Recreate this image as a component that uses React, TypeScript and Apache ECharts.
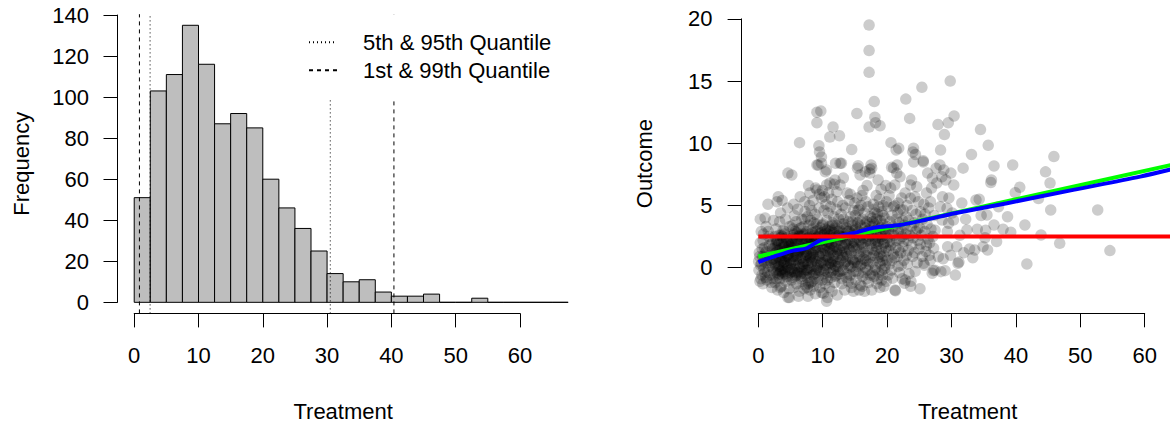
import { useEffect, useRef } from "react";
import * as echarts from "echarts";

// ---------- Histogram of the treatment variable ----------
const histBinWidth = 2.5;
const histCounts = [51, 103, 111, 135, 116, 87, 92, 85, 60, 46, 36, 25, 14, 10, 11, 5, 3, 3, 4, 0, 0, 2, 0, 0, 0, 0, 0];
const histXTicks = { min: 0, max: 60, step: 10 };
const histYTicks = { min: 0, max: 140, step: 20 };
const quantiles5_95 = [2.47, 30.5];
const quantiles1_99 = [0.81, 40.4];

// ---------- Treatment vs outcome (flat x,y pairs) ----------
const pts0to5 = [
  0.1,-0.2, 0.2,0.9, 0.3,2.0, 0.4,-0.9, 0.5,0.3, 0.6,1.5, 0.7,-1.3, 0.8,2.7, 0.9,0.5, 1.0,-0.4,
  1.1,1.2, 1.2,3.3, 1.3,-1.0, 1.4,0.8, 1.5,5.1, 1.6,0.1, 1.7,1.8, 1.8,-0.6, 1.9,2.3, 2.0,0.4,
  2.1,-1.6, 2.2,1.5, 2.3,0.7, 2.4,-0.3, 0.15,1.2, 0.35,0.2, 0.55,-0.6, 0.75,2.2, 0.95,1.6, 1.15,-0.8,
  1.35,0.4, 1.55,2.9, 1.75,1.0, 1.95,-1.2, 2.15,0.0, 2.35,3.8, 0.25,-1.1, 0.45,2.9, 0.65,0.9, 0.85,-0.1,
  1.05,4.0, 1.25,1.3, 1.45,-0.4, 1.65,2.5, 1.85,0.6, 2.05,1.9, 2.25,-0.9, 2.45,1.1, 0.05,0.5, 0.3,3.9,
  2.55,0.3, 2.6,-1.2, 2.65,1.8, 2.7,0.6, 2.75,3.1, 2.8,-0.4, 2.85,2.2, 2.9,5.3, 2.95,0.9, 3.0,-1.8,
  3.05,1.4, 3.1,5.7, 3.15,-0.2, 3.2,2.6, 3.25,0.1, 3.3,3.7, 3.35,-0.9, 3.4,1.1, 3.45,4.4, 3.5,0.5,
  3.55,-1.5, 3.6,2.0, 3.65,0.8, 3.7,5.4, 3.75,-0.6, 3.8,1.6, 3.85,3.0, 3.9,0.2, 3.95,-2.0, 4.0,1.3,
  4.05,2.7, 4.1,-0.3, 4.15,0.7, 4.2,3.9, 4.25,1.9, 4.3,-1.1, 4.35,0.4, 4.4,2.4, 4.45,-0.7, 4.5,1.0,
  4.55,4.8, 4.6,7.6, 4.65,0.0, 4.7,2.1, 4.75,-1.7, 4.8,1.5, 4.85,3.3, 4.9,0.6, 4.95,-0.4, 2.58,2.5,
  2.68,0.2, 2.78,1.2, 2.88,2.1, 2.98,0.0, 3.08,-0.6, 3.18,1.9, 3.28,0.7, 3.38,1.5, 3.48,-0.3, 3.58,2.6,
  3.68,1.0, 3.78,-0.4, 3.88,2.3, 3.98,0.4, 4.08,1.7, 4.18,-0.2, 4.28,1.4, 4.38,0.9, 4.48,0.1, 4.58,2.0,
  4.68,1.1, 4.78,-0.2, 4.88,1.8, 4.98,0.3, 2.62,1.6, 2.72,0.8, 2.82,-0.9, 2.92,1.6, 3.02,2.2, 3.12,0.3,
  3.22,-0.5, 3.32,1.4, 3.42,2.4, 3.52,-0.2, 3.62,0.6, 3.72,2.5, 3.82,-0.1, 3.92,1.8, 4.02,2.9, 4.12,0.5,
  4.22,-0.5, 4.32,1.2, 4.42,2.2, 4.52,-0.8, 4.62,0.9, 4.72,1.7, 4.82,-2.4, 4.92,1.4, 4.6,-2.4, 3.4,-1.6,
];
const pts5to10 = [
  5.05,0.4, 5.1,2.1, 5.15,-1.0, 5.2,7.45, 5.25,1.3, 5.3,3.4, 5.35,-0.3, 5.4,0.9, 5.45,2.6, 5.5,-1.6,
  5.55,1.7, 5.6,4.2, 5.65,0.2, 5.7,2.9, 5.75,-0.7, 5.8,1.1, 5.85,3.7, 5.9,0.6, 5.95,-1.3, 6.0,2.3,
  6.05,1.0, 6.1,4.7, 6.15,-0.4, 6.2,1.9, 6.25,0.3, 6.3,3.1, 6.35,-1.9, 6.4,10.05, 6.45,1.4, 6.5,5.7,
  6.55,0.7, 6.6,2.5, 6.65,-0.9, 6.7,1.6, 6.75,3.9, 6.8,0.0, 6.85,2.2, 6.9,-1.1, 6.95,1.2, 7.0,3.3,
  7.05,0.5, 7.1,-0.5, 7.15,2.7, 7.2,1.5, 7.25,4.5, 7.3,-1.4, 7.35,0.8, 7.4,2.0, 7.45,-0.2, 5.08,2.2,
  5.18,1.6, 5.28,-0.8, 5.38,2.4, 5.48,0.6, 5.58,-0.1, 5.68,2.3, 5.78,1.4, 5.88,-0.6, 5.98,0.9, 6.08,2.0,
  6.18,-0.3, 6.28,1.3, 6.38,2.6, 6.48,0.1, 6.58,-0.5, 6.68,2.1, 6.78,0.8, 6.88,2.7, 6.98,0.3, 7.08,1.8,
  7.18,-0.2, 7.28,0.4, 7.38,2.2, 7.48,1.1, 5.12,-0.1, 5.22,1.9, 5.32,0.5, 5.42,3.1, 5.52,2.7, 5.62,-0.4,
  5.72,0.9, 5.82,2.0, 5.92,-0.4, 6.02,2.8, 6.12,1.2, 6.22,-2.3, 6.32,2.5, 6.42,0.0, 6.52,1.7, 6.62,3.2,
  6.72,-0.7, 6.82,1.5, 6.92,0.3, 7.02,2.6, 7.12,-1.7, 7.22,3.9, 7.32,1.3, 7.42,-0.5, 5.5,5.1, 7.2,5.3,
  7.52,1.0, 7.55,2.9, 7.58,-0.8, 7.6,1.7, 7.63,4.1, 7.66,0.3, 7.7,-2.3, 7.72,2.4, 7.75,1.2, 7.78,-1.3,
  7.8,6.6, 7.83,3.4, 7.86,0.6, 7.9,2.0, 7.93,-0.4, 7.96,5.0, 8.0,1.5, 8.03,-1.8, 8.06,2.7, 8.1,0.9,
  8.13,3.8, 8.16,-0.1, 8.2,1.9, 8.23,4.6, 8.26,0.4, 8.3,-1.1, 8.33,2.3, 8.36,1.1, 8.4,3.1, 8.43,-0.6,
  8.46,0.8, 8.5,5.4, 8.53,2.0, 8.56,-1.5, 8.6,1.4, 8.63,3.6, 8.66,0.1, 8.7,2.6, 8.73,-0.9, 8.76,1.8,
  8.8,4.3, 8.83,0.7, 8.86,-2.1, 8.9,2.9, 8.93,1.3, 8.96,-0.2, 9.0,3.5, 9.03,0.5, 9.06,2.2, 9.1,12.5,
  9.1,11.65, 9.1,8.26, 9.1,6.25, 9.13,-1.2, 9.16,1.6, 9.2,3.9, 9.23,0.2, 9.26,2.5, 9.3,8.26, 9.33,-0.7,
  9.36,1.0, 9.4,9.8, 9.43,4.8, 9.46,0.9, 9.5,9.3, 9.53,2.1, 9.56,-1.6, 9.6,3.2, 9.63,1.2, 9.66,-0.3,
  9.7,12.6, 9.73,2.8, 9.76,0.4, 9.8,8.9, 9.8,8.4, 9.83,5.6, 9.86,1.7, 9.9,-1.0, 9.93,3.4, 9.96,0.6,
  7.54,2.3, 7.64,-0.2, 7.74,1.9, 7.84,0.0, 7.94,2.5, 8.04,0.8, 8.14,-1.2, 8.24,2.2, 8.34,0.5, 8.44,2.8,
  8.54,1.0, 8.64,-0.5, 8.74,2.3, 8.84,1.6, 8.94,-0.4, 9.04,2.4, 9.14,0.0, 9.24,3.0, 9.34,1.5, 9.44,-0.2,
  9.54,2.7, 9.64,0.3, 9.74,2.2, 9.84,-2.0, 9.94,1.9, 7.6,-1.6, 8.0,6.0, 8.9,6.4, 9.5,5.9, 9.95,6.2,
];
const pts10to15 = [
  10.02,1.1, 10.05,3.5, 10.1,-2.06, 10.12,0.4, 10.15,2.2, 10.2,4.6, 10.22,-0.5, 10.25,1.6, 10.3,2.9, 10.33,0.2,
  10.36,-1.3, 10.4,7.7, 10.42,3.1, 10.45,1.0, 10.5,5.1, 10.52,-0.1, 10.55,2.4, 10.6,7.86, 10.6,6.65, 10.6,-2.7,
  10.62,1.8, 10.65,3.8, 10.7,0.6, 10.72,-1.0, 10.75,2.7, 10.8,1.3, 10.83,4.4, 10.86,-0.4, 10.9,6.0, 10.92,2.0,
  10.95,0.8, 11.0,3.3, 11.02,-1.6, 11.05,1.5, 11.1,10.5, 11.12,2.6, 11.15,0.0, 11.2,4.9, 11.22,1.2, 11.25,-0.8,
  11.3,3.0, 11.33,1.9, 11.36,0.3, 11.4,5.5, 11.42,2.3, 11.45,-1.9, 11.5,1.4, 11.53,3.6, 11.56,0.7, 11.6,11.3,
  11.62,2.1, 11.65,-0.2, 11.7,4.1, 11.72,1.0, 11.75,2.8, 11.8,6.7, 11.82,0.5, 11.85,-1.2, 11.9,7.05, 11.92,3.2,
  11.95,1.7, 12.0,8.4, 12.02,0.1, 12.05,2.5, 12.1,4.7, 12.12,-0.6, 12.15,1.3, 12.2,3.4, 12.22,0.9, 12.25,-2.2,
  12.3,2.2, 12.33,5.3, 12.36,1.1, 12.4,-0.3, 12.42,2.9, 12.45,0.4, 12.48,3.9, 10.08,2.6, 10.18,-0.2, 10.28,2.7,
  10.38,1.4, 10.48,-0.8, 10.58,0.9, 10.68,3.0, 10.78,2.1, 10.88,0.3, 10.98,1.7, 11.08,2.9, 11.18,0.4, 11.28,-0.4,
  11.38,2.4, 11.48,3.4, 11.58,0.5, 11.68,1.6, 11.78,3.1, 11.88,0.2, 11.98,-0.7, 12.08,2.0, 12.18,6.1, 12.28,1.5,
  12.38,0.1, 12.46,2.6, 10.25,5.7, 11.1,6.8, 10.75,-2.4,
  12.55,1.4, 12.6,10.6, 12.62,3.0, 12.65,-0.5, 12.7,8.4, 12.7,6.65, 12.75,2.2, 12.8,0.6, 12.85,4.3, 12.9,8.4,
  12.92,1.8, 12.95,-1.3, 13.0,3.5, 13.05,1.0, 13.1,5.0, 13.12,2.5, 13.15,-0.2, 13.2,1.6, 13.25,3.9, 13.3,0.3,
  13.35,2.7, 13.4,-1.8, 13.45,1.3, 13.5,4.8, 13.55,2.0, 13.6,0.5, 13.65,3.2, 13.7,-0.8, 13.75,1.9, 13.8,6.0,
  13.85,2.9, 13.9,0.9, 13.95,-1.1, 14.0,3.7, 14.05,1.5, 14.1,5.4, 14.15,2.3, 14.2,0.0, 14.25,-0.6, 14.3,2.8,
  14.35,4.1, 14.4,1.2, 14.45,-1.6, 14.5,9.5, 14.5,-1.25, 14.55,2.5, 14.6,0.7, 14.65,3.4, 14.7,1.7, 14.75,-0.3,
  14.8,4.6, 14.85,2.1, 14.9,0.4, 14.95,3.0, 12.58,2.6, 12.68,-0.3, 12.78,2.5, 12.88,1.2, 12.98,-0.9, 13.08,2.4,
  13.18,0.8, 13.28,3.5, 13.38,1.9, 13.48,0.4, 13.58,3.0, 13.68,1.1, 13.78,-0.5, 13.88,2.2, 13.98,0.2, 14.08,2.9,
  14.18,1.4, 14.28,5.9, 14.38,0.1, 14.48,2.0, 14.58,3.7, 14.68,0.6, 14.78,-1.9, 14.88,1.6, 14.98,5.2, 13.2,7.2,
];
const pts15to20 = [
  15.02,2.0, 15.05,4.2, 15.1,0.6, 15.15,-1.0, 15.2,3.1, 15.25,1.5, 15.3,12.4, 15.32,5.6, 15.35,2.4, 15.4,8.0,
  15.42,0.1, 15.45,3.6, 15.5,8.2, 15.52,1.8, 15.55,-0.5, 15.6,2.9, 15.65,4.7, 15.7,0.9, 15.75,2.2, 15.8,7.45,
  15.82,-1.4, 15.85,3.4, 15.9,1.3, 15.95,5.0, 16.0,2.6, 16.05,0.3, 16.1,-1.5, 16.15,3.9, 16.2,1.9, 16.25,6.2,
  16.3,0.7, 16.35,2.8, 16.4,-0.4, 16.45,4.4, 16.5,1.6, 16.55,3.2, 16.6,7.7, 16.62,0.0, 16.65,2.1, 16.7,5.3,
  16.75,1.0, 16.8,-0.9, 16.85,3.7, 16.9,2.3, 16.95,0.5, 17.0,4.9, 17.05,1.4, 17.1,-1.2, 17.15,3.0, 17.2,19.5,
  17.2,17.45, 17.2,15.7, 17.2,11.3, 17.25,2.5, 17.3,7.9, 17.32,7.6, 17.35,0.8, 17.4,4.1, 17.45,1.9, 15.08,3.3,
  15.18,-0.3, 15.28,2.7, 15.38,0.4, 15.48,4.6, 15.58,1.1, 15.68,-1.8, 15.78,3.8, 15.88,0.2, 15.98,2.0, 16.08,5.8,
  16.18,-0.7, 16.28,2.4, 16.38,1.2, 16.48,-1.9, 16.58,3.5, 16.68,0.6, 16.78,2.9, 16.88,6.6, 16.98,-0.2, 17.08,2.2,
  17.18,0.3, 17.28,3.6, 17.38,-0.6, 17.48,2.8,
  17.5,8.26, 17.55,3.3, 17.6,8.0, 17.6,-1.8, 17.65,1.5, 17.7,4.0, 17.75,2.2, 17.8,0.4, 17.85,5.1, 17.9,2.9,
  17.95,-0.7, 18.0,13.35, 18.02,3.5, 18.05,1.2, 18.1,12.1, 18.12,4.4, 18.15,2.0, 18.2,11.65, 18.22,0.0, 18.25,3.0,
  18.3,5.8, 18.35,1.7, 18.4,-1.3, 18.45,2.6, 18.5,4.3, 18.55,0.8, 18.6,7.05, 18.62,3.4, 18.65,1.9, 18.7,-0.4,
  18.75,2.4, 18.8,5.5, 18.85,1.1, 18.9,11.4, 18.92,3.8, 18.95,0.3, 19.0,2.7, 19.05,6.3, 19.1,1.5, 19.15,-1.0,
  19.2,4.5, 19.2,-0.2, 19.25,2.3, 19.3,3.5, 19.35,0.6, 19.4,5.0, 19.45,1.9, 19.5,-1.5, 19.55,3.1, 19.6,2.0,
  19.65,4.0, 19.7,0.2, 19.75,2.6, 19.8,6.6, 19.85,1.3, 19.9,5.3, 19.95,3.3, 17.58,2.6, 17.68,-0.5, 17.78,3.7,
  17.88,1.0, 17.98,4.7, 18.08,-0.2, 18.18,2.3, 18.28,1.4, 18.38,3.9, 18.48,-0.9, 18.58,2.1, 18.68,4.9, 18.78,0.5,
  18.88,-1.6, 18.98,3.2, 19.08,0.9, 19.18,2.5, 19.28,-0.6, 19.38,4.2, 19.48,1.0, 19.58,-0.1, 19.68,2.9, 19.78,1.6,
  19.88,-1.1, 19.98,0.6,
];
const pts20to30 = [
  20.05,2.4, 20.1,4.9, 20.15,-0.6, 20.2,3.0, 20.25,1.4, 20.3,5.8, 20.35,2.1, 20.4,0.3, 20.45,3.7, 20.5,1.8,
  20.55,6.4, 20.6,10.05, 20.62,2.7, 20.65,-0.2, 20.7,8.07, 20.72,0.6, 20.75,4.2, 20.8,2.0, 20.85,-0.85, 20.9,3.3,
  20.95,1.1, 21.0,8.0, 21.02,4.9, 21.05,2.6, 21.1,0.8, 21.15,5.0, 21.2,6.65, 21.22,-1.8, 21.25,3.1, 21.3,-1.85,
  21.35,1.6, 21.4,9.46, 21.42,3.9, 21.45,2.2, 21.5,7.6, 21.55,8.26, 21.6,0.9, 21.65,4.4, 21.7,0.1, 21.72,5.2,
  21.75,2.9, 21.8,9.6, 21.82,1.4, 21.85,3.6, 21.9,-0.4, 21.95,2.3, 22.0,7.3, 22.05,4.7, 22.1,1.2, 22.15,3.0,
  22.2,0.2, 22.25,5.6, 22.3,2.5, 22.35,-0.9, 22.4,3.8, 22.45,1.7,
  22.5,4.64, 22.55,2.1, 22.6,0.6, 22.65,3.4, 22.7,-1.25, 22.8,6.0, 22.82,-1.0, 22.85,2.7, 22.9,13.55, 22.95,4.1,
  23.0,1.0, 23.05,3.0, 23.1,5.0, 23.15,0.3, 23.2,2.2, 23.3,1.4, 23.35,3.8, 23.4,-0.5, 23.5,12.0, 23.55,2.6,
  23.6,5.58, 23.62,6.65, 23.65,-1.5, 23.7,-1.1, 23.75,3.3, 23.8,7.05, 23.82,1.8, 23.9,4.6, 23.95,0.9, 24.0,9.3,
  24.05,2.4, 24.1,9.6, 24.12,8.5, 24.2,3.6, 24.25,1.2, 24.3,5.7, 24.35,-0.3, 24.4,9.1, 24.45,2.9, 24.5,4.3,
  24.6,6.5, 24.65,0.4, 24.7,3.1, 24.8,2.2, 24.85,5.3, 24.95,1.5,
  25.05,3.2, 25.1,-1.69, 25.15,1.9, 25.2,4.5, 25.3,2.6, 25.4,14.5, 25.45,0.9, 25.5,3.9, 25.6,8.6, 25.62,8.5,
  25.65,0.35, 25.7,5.1, 25.8,0.2, 25.85,2.9, 25.9,4.3, 26.0,1.3, 26.1,1.8, 26.12,6.0, 26.2,3.5, 26.3,7.6,
  26.35,2.3, 26.45,4.8, 26.55,1.0, 26.7,0.6, 26.72,5.3, 26.8,3.1, 26.9,6.4, 27.0,-0.45, 27.02,7.2, 27.1,2.5,
  27.2,-0.24, 27.22,1.56, 27.3,4.2, 27.4,-0.2, 27.45,3.0, 26.6,2.0,
  27.6,8.0, 27.7,6.8, 27.9,11.5, 27.95,0.88, 28.2,8.26, 28.25,4.9, 28.3,9.45, 28.35,-0.32, 28.5,7.3, 28.55,3.83,
  28.6,5.7, 28.7,0.72, 28.8,7.86, 28.9,10.7, 29.0,-0.24, 29.1,7.05, 29.3,4.77, 29.35,2.9, 29.4,1.69, 29.5,11.65,
  29.55,3.57, 29.6,5.6, 29.8,15.0, 29.85,1.0, 29.9,7.6,
];
const pts30plus = [
  30.1,4.4, 30.3,3.83, 30.35,6.65, 30.4,12.2, 30.8,1.69, 31.0,0.35, 31.15,0.45, 31.3,2.6, 31.6,5.2, 31.9,1.2,
  32.2,3.9, 32.4,3.03, 30.6,-0.6, 31.8,8.0,
  32.8,1.5, 33.1,9.1, 33.6,1.42, 33.8,5.44, 34.0,3.09, 34.3,5.5, 34.5,11.1, 34.9,1.69, 33.3,0.8, 34.6,4.2,
  35.2,2.4, 35.3,3.0, 35.5,4.24, 35.6,1.42, 35.7,9.84, 36.1,6.84, 36.2,7.05, 36.6,8.18, 36.6,3.43, 37.0,2.1, 37.3,4.9,
  38.0,3.09, 38.7,4.1, 39.2,2.85, 39.5,8.26, 39.9,6.03,
  40.6,6.46, 41.4,3.43, 41.7,0.3,
  43.5,5.55, 43.9,2.63, 44.6,7.7,
  45.3,6.8, 45.4,4.64, 45.9,8.93, 46.8,1.96,
  52.7,4.64, 54.6,1.37,
];

// ---------- Fitted curves ----------
const fitConstant = [[0, 2.5], [64.5, 2.5]];
const fitLinear = [[0, 0.9], [64.5, 8.3]];
const fitLoess = [
  [0, 0.45], [2.5, 0.9], [5.4, 1.37], [7.5, 1.56], [9.6, 2.2], [12, 2.5], [14.75, 2.77], [17.9, 3.2],
  [22, 3.43], [26, 3.85], [30.5, 4.37], [38.6, 5.18], [48.9, 6.25], [59.3, 7.32], [64.5, 7.95],
];
const outcomeYTicks = { min: 0, max: 20, step: 5 };
const outcomeXTicks = { min: 0, max: 60, step: 10 };

// ---------- Layout ----------
const FONT = "'Liberation Sans', Arial, Helvetica, sans-serif";
const FS = 22;

type Panel = { left: number; right: number; top: number; bottom: number; xMin: number; xMax: number; yMin: number; yMax: number };
const histPanel: Panel = { left: 117.5, right: 568.8, top: 14.2, bottom: 313.4, xMin: -2.6, xMax: 67.6, yMin: -5.4, yMax: 140.4 };
// the right-hand plot region runs past the page edge; it is cut at x = 1170
const scatPanel: Panel = { left: 741.6, right: 1170, top: 13.9, bottom: 313.3, xMin: -2.6, xMax: 63.93, yMin: -3.67, yMax: 20.4 };
const scatTitleShift = 23.6;

const px = (p: Panel, v: number) => p.left + ((v - p.xMin) / (p.xMax - p.xMin)) * (p.right - p.left);
const py = (p: Panel, v: number) => p.bottom - ((v - p.yMin) / (p.yMax - p.yMin)) * (p.bottom - p.top);

const toPairs = (flat: number[]) => {
  const out: number[][] = [];
  for (let i = 0; i + 1 < flat.length; i += 2) out.push([flat[i], flat[i + 1]]);
  return out;
};

const black = "#000";
const axisLineStyle = { color: black, width: 1 };

function panelGrids(p: Panel, xt: { min: number; max: number }, yt: { min: number; max: number }) {
  const base = { outerBoundsMode: "none", containLabel: false };
  return [
    { ...base, left: p.left, top: p.top, width: p.right - p.left, height: p.bottom - p.top },
    { ...base, left: px(p, xt.min), width: px(p, xt.max) - px(p, xt.min), top: p.bottom - 10, height: 10 },
    { ...base, left: p.left, width: 10, top: py(p, yt.max), height: py(p, yt.min) - py(p, yt.max) },
  ];
}

const hiddenAxis = (gridIndex: number) => ({ type: "value", gridIndex, min: 0, max: 1, show: false });

function dataAxes(p: Panel, gridIndex: number, xName: string, yName: string, yGap: number, xShift: number) {
  const common = {
    type: "value",
    gridIndex,
    axisLine: { show: false },
    axisTick: { show: false },
    axisLabel: { show: false },
    splitLine: { show: false },
    nameLocation: "middle",
  };
  const nameStyle = { fontSize: FS, color: black, fontFamily: FONT };
  return {
    x: {
      ...common, min: p.xMin, max: p.xMax, name: xName, nameGap: 87,
      nameTextStyle: { ...nameStyle, padding: [0, 0, 0, xShift] },
    },
    y: { ...common, min: p.yMin, max: p.yMax, name: yName, nameGap: yGap, nameTextStyle: nameStyle },
  };
}

function tickAxis(gridIndex: number, t: { min: number; max: number; step: number }, margin: number) {
  return {
    type: "value",
    gridIndex,
    min: t.min,
    max: t.max,
    interval: t.step,
    axisLine: { show: true, lineStyle: axisLineStyle },
    axisTick: { show: true, length: 14, lineStyle: axisLineStyle },
    axisLabel: { show: true, fontSize: FS, color: black, fontFamily: FONT, margin },
    splitLine: { show: false },
  };
}

function vline(name: string, q: number, dash: number[]) {
  return {
    type: "line",
    name,
    xAxisIndex: 0,
    yAxisIndex: 0,
    data: [[q, histPanel.yMin], [q, histPanel.yMax]],
    symbol: "none",
    silent: true,
    itemStyle: { color: "rgba(0,0,0,0)" },
    lineStyle: { color: black, width: 1, type: dash },
    z: 3,
  };
}

export default function App() {
  const ref = useRef<HTMLDivElement>(null);

  useEffect(() => {
    if (!ref.current) return;
    const chart = echarts.init(ref.current, undefined, { renderer: "svg" });

    const hA = dataAxes(histPanel, 0, "Treatment", "Frequency", 85, 0);
    const sA = dataAxes(scatPanel, 3, "Treatment", "Outcome", 86, scatTitleShift);

    const dotted = [1, 3];
    const dashed = [4, 4];

    const option: any = {
      animation: false,
      backgroundColor: "#fff",
      textStyle: { fontFamily: FONT },
      grid: [...panelGrids(histPanel, histXTicks, histYTicks), ...panelGrids(scatPanel, outcomeXTicks, outcomeYTicks)],
      xAxis: [
        hA.x,
        tickAxis(1, histXTicks, 31),
        hiddenAxis(2),
        sA.x,
        tickAxis(4, outcomeXTicks, 31),
        hiddenAxis(5),
      ],
      yAxis: [
        hA.y,
        hiddenAxis(1),
        tickAxis(2, histYTicks, 28.5),
        sA.y,
        hiddenAxis(4),
        tickAxis(5, outcomeYTicks, 29),
      ],
      legend: {
        data: ["5th & 95th Quantile", "1st & 99th Quantile"],
        orient: "vertical",
        left: 297,
        top: histPanel.top,
        backgroundColor: "#fff",
        borderWidth: 0,
        padding: [17, 11, 18, 11],
        itemWidth: 28,
        itemHeight: 14,
        itemGap: 6,
        selectedMode: false,
        itemStyle: { opacity: 0, borderWidth: 0 },
        textStyle: { fontSize: FS, color: black, fontFamily: FONT, lineHeight: 22, padding: [0, 0, 0, 21] },
      },
      series: [
        {
          type: "custom",
          name: "Frequency",
          xAxisIndex: 0,
          yAxisIndex: 0,
          silent: true,
          data: histCounts.map((c, i) => [i * histBinWidth, (i + 1) * histBinWidth, c]),
          encode: { x: [0, 1], y: 2 },
          renderItem: (_params: any, api: any) => {
            const a = api.coord([api.value(0), 0]);
            const b = api.coord([api.value(1), api.value(2)]);
            return {
              type: "polygon",
              shape: { points: [[a[0], a[1]], [b[0], a[1]], [b[0], b[1]], [a[0], b[1]]] },
              style: { fill: "#BEBEBE", stroke: black, lineWidth: 1 },
            };
          },
          z: 2,
        },
        ...quantiles5_95.map((q) => vline("5th & 95th Quantile", q, dotted)),
        ...quantiles1_99.map((q) => vline("1st & 99th Quantile", q, dashed)),
        {
          type: "scatter",
          name: "Outcome",
          xAxisIndex: 3,
          yAxisIndex: 3,
          silent: true,
          symbol: "circle",
          symbolSize: 11.5,
          itemStyle: { color: "rgba(0,0,0,0.25)" },
          data: [
            ...toPairs(pts0to5),
            ...toPairs(pts5to10),
            ...toPairs(pts10to15),
            ...toPairs(pts15to20),
            ...toPairs(pts20to30),
            ...toPairs(pts30plus),
          ],
          z: 2,
        },
        {
          type: "line",
          name: "Linear fit",
          xAxisIndex: 3,
          yAxisIndex: 3,
          data: fitLinear,
          symbol: "none",
          silent: true,
          lineStyle: { color: "#00FF00", width: 4 },
          z: 3,
        },
        {
          type: "line",
          name: "Loess fit",
          xAxisIndex: 3,
          yAxisIndex: 3,
          data: fitLoess,
          symbol: "none",
          smooth: 0.3,
          silent: true,
          lineStyle: { color: "#0000FF", width: 4 },
          z: 3,
        },
        {
          type: "line",
          name: "Constant fit",
          xAxisIndex: 3,
          yAxisIndex: 3,
          data: fitConstant,
          symbol: "none",
          silent: true,
          lineStyle: { color: "#FF0000", width: 4 },
          z: 3,
        },
      ],
    };

    chart.setOption(option);
    return () => chart.dispose();
  }, []);

  return (
    <div
      ref={ref}
      style={{ position: "fixed", left: 0, top: 0, width: 1170, height: 424, background: "#fff" }}
    />
  );
}
